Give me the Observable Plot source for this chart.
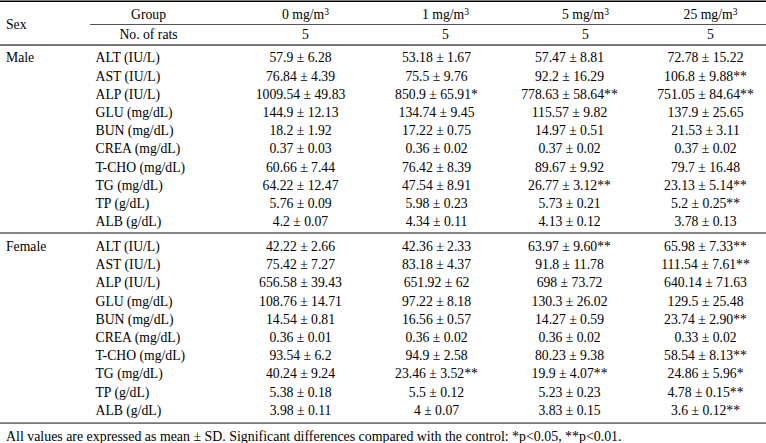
<!DOCTYPE html>
<html>
<head>
<meta charset="utf-8">
<script src="https://cdn.jsdelivr.net/npm/d3@7"></script>
<script src="https://cdn.jsdelivr.net/npm/@observablehq/plot@0.6"></script>
<style>
  html, body { margin: 0; padding: 0; background: #fff; }
  #chart svg { display: block; }
</style>
</head>
<body>
<div id="chart"></div>
<script>
// ---------- data ----------
const groups = ["0 mg/m³", "1 mg/m³", "5 mg/m³", "25 mg/m³"];
const nRats = ["5", "5", "5", "5"];
const sexes = ["Male", "Female"];
const params = ["ALT (IU/L)", "AST (IU/L)", "ALP (IU/L)", "GLU (mg/dL)", "BUN (mg/dL)",
  "CREA (mg/dL)", "T-CHO (mg/dL)", "TG (mg/dL)", "TP (g/dL)", "ALB (g/dL)"];

const male0 = ["57.9 ± 6.28", "76.84 ± 4.39", "1009.54 ± 49.83", "144.9 ± 12.13", "18.2 ± 1.92",
  "0.37 ± 0.03", "60.66 ± 7.44", "64.22 ± 12.47", "5.76 ± 0.09", "4.2 ± 0.07"];
const male1 = ["53.18 ± 1.67", "75.5 ± 9.76", "850.9 ± 65.91*", "134.74 ± 9.45", "17.22 ± 0.75",
  "0.36 ± 0.02", "76.42 ± 8.39", "47.54 ± 8.91", "5.98 ± 0.23", "4.34 ± 0.11"];
const male5 = ["57.47 ± 8.81", "92.2 ± 16.29", "778.63 ± 58.64**", "115.57 ± 9.82", "14.97 ± 0.51",
  "0.37 ± 0.02", "89.67 ± 9.92", "26.77 ± 3.12**", "5.73 ± 0.21", "4.13 ± 0.12"];
const male25 = ["72.78 ± 15.22", "106.8 ± 9.88**", "751.05 ± 84.64**", "137.9 ± 25.65", "21.53 ± 3.11",
  "0.37 ± 0.02", "79.7 ± 16.48", "23.13 ± 5.14**", "5.2 ± 0.25**", "3.78 ± 0.13"];

const female0 = ["42.22 ± 2.66", "75.42 ± 7.27", "656.58 ± 39.43", "108.76 ± 14.71", "14.54 ± 0.81",
  "0.36 ± 0.01", "93.54 ± 6.2", "40.24 ± 9.24", "5.38 ± 0.18", "3.98 ± 0.11"];
const female1 = ["42.36 ± 2.33", "83.18 ± 4.37", "651.92 ± 62", "97.22 ± 8.18", "16.56 ± 0.57",
  "0.36 ± 0.02", "94.9 ± 2.58", "23.46 ± 3.52**", "5.5 ± 0.12", "4 ± 0.07"];
const female5 = ["63.97 ± 9.60**", "91.8 ± 11.78", "698 ± 73.72", "130.3 ± 26.02", "14.27 ± 0.59",
  "0.36 ± 0.02", "80.23 ± 9.38", "19.9 ± 4.07**", "5.23 ± 0.23", "3.83 ± 0.15"];
const female25 = ["65.98 ± 7.33**", "111.54 ± 7.61**", "640.14 ± 71.63", "129.5 ± 25.48", "23.74 ± 2.90**",
  "0.33 ± 0.02", "58.54 ± 8.13**", "24.86 ± 5.96*", "4.78 ± 0.15**", "3.6 ± 0.12**"];

const headerLabels = ["Sex", "Group", "No. of rats"];
const footnote = "All values are expressed as mean ± SD. Significant differences compared with the control: *p<0.05, **p<0.01.";

// ---------- layout (pixels) ----------
const W = 766, H = 443;
const FONT = "'Liberation Serif', 'Times New Roman', serif";
const FS = 13.7;
const colX = { sex: 5.5, param: 95, group: 148 };
const headX = [305, 445, 585, 710];
const valX = [300, 436, 569, 705];
const yGroup = 14.5, yN = 34.5, yRow0 = 57.5, rowH = 18.2, yFemale0 = 246.2;
const lines = { top: 0.8, groupLine: 24, header: 44.5, mid: 232.5, bottom: 422.7 };
const yFoot = 436.5;

// ---------- build tables ----------
const seriesBySex = { Male: [male0, male1, male5, male25], Female: [female0, female1, female5, female25] };
const cells = [];
sexes.forEach((sex, si) => {
  const y0 = si === 0 ? yRow0 : yFemale0;
  seriesBySex[sex].forEach((arr, gi) => {
    arr.forEach((v, pi) => cells.push({ sex, group: groups[gi], gi, param: params[pi], pi, text: v, y: y0 + pi * rowH }));
  });
});
const paramRows = [];
sexes.forEach((sex, si) => {
  const y0 = si === 0 ? yRow0 : yFemale0;
  params.forEach((p, pi) => paramRows.push({ sex, param: p, pi, y: y0 + pi * rowH }));
});
const sexRows = sexes.map((s, si) => ({ sex: s, y: si === 0 ? yRow0 : yFemale0 }));
const headRows = groups.map((g, gi) => ({ group: g, n: nRats[gi], x: headX[gi] }));

const textCommon = { fontFamily: FONT, fontSize: FS, fill: "#000", lineAnchor: "middle" };

const plot = Plot.plot({
  width: W, height: H,
  margin: 0,
  x: { type: "identity", axis: null },
  y: { type: "identity", axis: null },
  style: { background: "#fff", fontFamily: FONT },
  marks: [
    // rules
    Plot.ruleY([lines.top], { x1: 0, x2: W, stroke: "#000", strokeWidth: 1.6 }),
    Plot.ruleY([lines.groupLine], { x1: 90, x2: W, stroke: "#555", strokeWidth: 1.2 }),
    Plot.ruleY([lines.header], { x1: 0, x2: W, stroke: "#777", strokeWidth: 1.8 }),
    Plot.ruleY([lines.mid], { x1: 0, x2: W, stroke: "#111", strokeWidth: 1.1 }),
    Plot.ruleY([lines.bottom], { x1: 0, x2: W, stroke: "#777", strokeWidth: 1.8 }),
    // header
    Plot.text([headerLabels[0]], { x: colX.sex, y: lines.groupLine + 0.5, text: d => d, textAnchor: "start", ...textCommon }),
    Plot.text([headerLabels[1]], { x: colX.group, y: yGroup, text: d => d, textAnchor: "middle", ...textCommon }),
    Plot.text([headerLabels[2]], { x: colX.group, y: yN, text: d => d, textAnchor: "middle", ...textCommon }),
    Plot.text(headRows, { x: "x", y: yGroup, text: "group", textAnchor: "middle", ...textCommon }),
    Plot.text(headRows, { x: "x", y: yN, text: "n", textAnchor: "middle", ...textCommon }),
    // body
    Plot.text(sexRows, { x: colX.sex, y: "y", text: "sex", textAnchor: "start", ...textCommon }),
    Plot.text(paramRows, { x: colX.param, y: "y", text: "param", textAnchor: "start", ...textCommon }),
    Plot.text(cells, { x: d => valX[d.gi], y: "y", text: "text", textAnchor: "middle", ...textCommon }),
    // footnote
    Plot.text([footnote], { x: colX.sex, y: yFoot, text: d => d, textAnchor: "start", ...textCommon, fontSize: 13.9 })
  ]
});

// render the cubic unit as a small superscript, as in the reference
plot.querySelectorAll("text").forEach(t => {
  if (t.textContent.includes("³")) {
    const base = t.textContent.replace("³", "");
    t.textContent = base;
    const sup = document.createElementNS("http://www.w3.org/2000/svg", "tspan");
    sup.setAttribute("font-size", "9.5");
    sup.setAttribute("dy", "-4");
    sup.textContent = "3";
    t.appendChild(sup);
  }
});
document.getElementById("chart").appendChild(plot);
</script>
</body>
</html>
